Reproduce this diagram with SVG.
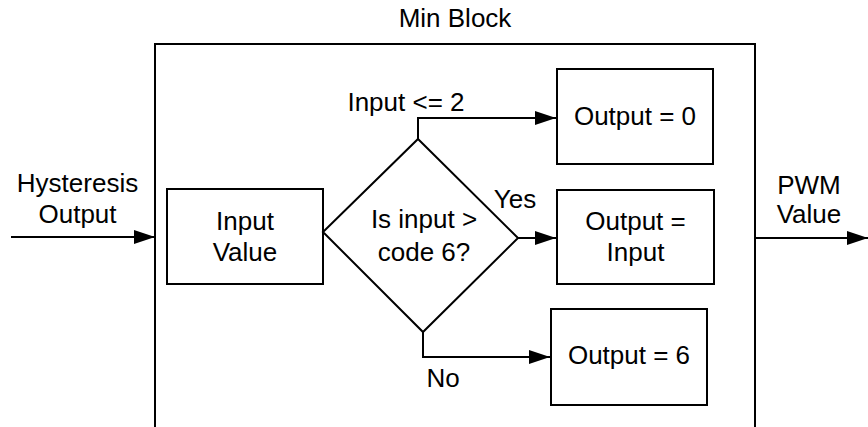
<svg xmlns="http://www.w3.org/2000/svg" width="868" height="427" viewBox="0 0 868 427">
<style>
.box{fill:#fff;stroke:#000;stroke-width:2}
.ln{fill:none;stroke:#000;stroke-width:2}
text{font-family:"Liberation Sans",Arial,sans-serif;font-size:26px;fill:#000;text-anchor:middle}
</style>
<defs>
<marker id="ah" markerUnits="userSpaceOnUse" markerWidth="22" markerHeight="16" refX="21" refY="7" orient="auto">
<path d="M0,0 L21,7 L0,14 Z" fill="#000"/>
</marker>
</defs>
<rect width="868" height="427" fill="#fff"/>
<g id="min-block">
<path class="ln" d="M155,427 V44 H755 V427"/>
<text x="455" y="27">Min Block</text>
</g>
<g id="input-value">
<rect class="box" x="167" y="189" width="156" height="95"/>
<text x="245" y="230">Input</text>
<text x="245" y="261">Value</text>
</g>
<g id="decision">
<polygon class="box" points="418,139 518,238 423,332 323,232"/>
<text x="424" y="228">Is input &gt;</text>
<text x="424" y="261">code 6?</text>
</g>
<g id="output-0">
<rect class="box" x="557" y="69" width="156" height="95"/>
<text x="635" y="125">Output = 0</text>
</g>
<g id="output-input">
<rect class="box" x="557" y="190" width="157" height="94"/>
<text x="635.5" y="230">Output =</text>
<text x="635.5" y="261">Input</text>
</g>
<g id="output-6">
<rect class="box" x="551" y="309" width="156" height="96"/>
<text x="629" y="364">Output = 6</text>
</g>
<g id="connectors">
<path class="ln" d="M11,237 H155" marker-end="url(#ah)"/>
<path class="ln" d="M755,238 H868" marker-end="url(#ah)"/>
<path class="ln" d="M418,139 V118 H556" marker-end="url(#ah)"/>
<path class="ln" d="M518,238 H556" marker-end="url(#ah)"/>
<path class="ln" d="M423,332 V357 H550" marker-end="url(#ah)"/>
</g>
<g id="labels">
<text x="77.5" y="192">Hysteresis</text>
<text x="77.5" y="223">Output</text>
<text x="809" y="194">PWM</text>
<text x="809" y="223">Value</text>
<text x="406" y="111">Input &lt;= 2</text>
<text x="515" y="208">Yes</text>
<text x="443" y="387">No</text>
</g>
</svg>
